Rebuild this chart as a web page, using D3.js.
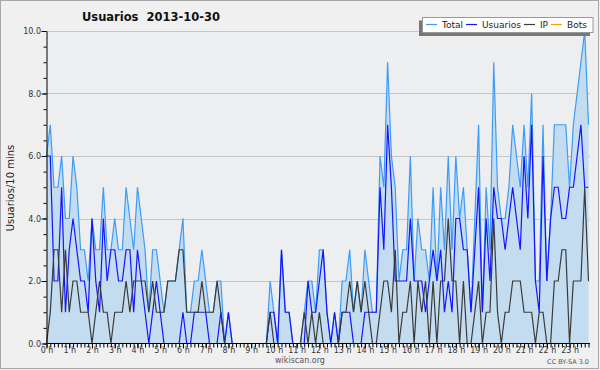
<!DOCTYPE html>
<html><head><meta charset="utf-8">
<script src="https://cdn.jsdelivr.net/npm/d3@7"></script>
<style>
body{margin:0;background:#fff}
svg{display:block}
text{font-family:"DejaVu Sans",sans-serif}
</style>
</head><body>
<svg id="c" width="600" height="370"></svg>
<script>
// 10-minute slots, 144 per day
const hourLabels = ["0 h","1 h","2 h","3 h","4 h","5 h","6 h","7 h","8 h","9 h","10 h","11 h",
  "12 h","13 h","14 h","15 h","16 h","17 h","18 h","19 h","20 h","21 h","22 h","23 h"];
const yTicks = [0,2,4,6,8,10];
const seriesNames = ["Total","Usuarios","IP","Bots"];

const total = [
  6,7,5,5,6,4,4,6,5,3,3,2,4,3,3,5,3,3,4,3,3,5,4,3,
  5,4,3,1,3,3,2,1,2,2,2,3,4,1,1,2,2,3,2,1,1,2,2,0,
  1,0,0,0,0,0,0,0,0,0,0,2,1,0,3,1,1,0,0,0,1,2,2,1,
  3,3,1,0,1,0,2,2,3,1,2,1,3,2,1,1,6,5,9,6,5,2,3,3,
  6,2,4,3,3,2,5,2,5,3,6,3,6,4,5,3,1,4,7,1,5,3,9,5,
  4,4,5,7,6,5,7,5,8,2,2,7,2,4,7,7,7,7,5,7,8,9,10,7];
const usuarios = [
  6,6,2,2,5,1,3,4,3,2,2,1,4,2,1,4,2,3,3,2,2,3,3,1,
  3,2,1,0,1,2,1,0,0,0,0,0,1,0,0,1,1,1,1,0,0,0,1,0,
  1,0,0,0,0,0,0,0,0,0,0,1,1,0,3,1,1,0,0,0,0,2,1,1,
  2,3,1,0,1,0,1,1,1,0,0,0,1,1,1,1,5,3,7,5,2,2,2,2,
  4,2,2,2,1,2,3,2,3,1,2,1,4,4,3,3,1,3,5,1,4,2,5,4,
  4,3,4,5,4,3,6,4,7,2,1,6,2,4,5,5,4,4,5,5,6,7,5,5];
const ip = [
  0,1,3,3,1,3,1,2,2,1,1,1,0,1,2,1,1,0,1,1,1,2,1,2,
  2,2,2,1,2,1,1,1,2,2,2,3,3,1,1,1,1,2,1,1,1,2,1,0,
  0,0,0,0,0,0,0,0,0,0,0,1,0,0,0,0,0,0,0,0,1,0,1,0,
  1,0,0,0,0,0,1,1,2,1,2,1,2,1,0,0,1,2,2,1,3,0,1,1,
  2,0,2,1,2,0,2,0,2,2,4,2,2,0,2,0,0,1,2,0,1,1,4,1,
  0,1,1,2,2,2,1,1,1,0,1,1,0,0,2,2,3,3,0,2,2,2,5,2];
const bots = [
  0,0,0,0,0,0,0,0,0,0,0,0,0,0,0,0,0,0,0,0,0,0,0,0,
  0,0,0,0,0,0,0,0,0,0,0,0,0,0,0,0,0,0,0,0,0,0,0,0,
  0,0,0,0,0,0,0,0,0,0,0,0,0,0,0,0,0,0,0,0,0,0,0,0,
  0,0,0,0,0,0,0,0,0,0,0,0,0,0,0,0,0,0,0,0,0,0,0,0,
  0,0,0,0,0,0,0,0,0,0,0,0,0,0,0,0,0,0,0,0,0,0,0,0,
  0,0,0,0,0,0,0,0,0,0,0,0,0,0,0,0,0,0,0,0,0,0,0,0];

const colors = {Total:"#3d9cf5", Usuarios:"#1414ff", IP:"#3a3a3a", Bots:"#ff9a00"};
const fillColor = "#c4dcf0";

const svg = d3.select("#c");
svg.append("rect").attr("x",0).attr("y",0).attr("width",600).attr("height",370).attr("fill","#f0f0f0");
svg.append("rect").attr("x",0.5).attr("y",0.5).attr("width",598).attr("height",368)
  .attr("fill","none").attr("stroke","#a8a8a8");

const x = d3.scaleLinear().domain([0,143]).range([46.5,588.5]);
const y = d3.scaleLinear().domain([0,10]).range([343.5,31]);
const xRight = 590;

// plot bg
svg.append("rect").attr("x",46.5).attr("y",y(10)).attr("width",xRight-46.5).attr("height",y(0)-y(10))
  .attr("fill","#eceef0");

// gridlines
svg.append("g").selectAll("line").data(yTicks.filter(d=>d>0)).join("line")
  .attr("x1",46.5).attr("x2",xRight)
  .attr("y1",d=>Math.round(y(d))+0.5).attr("y2",d=>Math.round(y(d))+0.5)
  .attr("stroke","#c6c6c6").attr("stroke-width",1);

const idx = d3.range(total.length);
// area
svg.append("path").datum(idx)
  .attr("d", d3.area().x(i=>x(i)).y0(y(0)).y1(i=>y(total[i])))
  .attr("fill",fillColor);

const line = arr => d3.line().x(i=>x(i)).y(i=>y(arr[i]));
const seriesData = {Total:total, Usuarios:usuarios, IP:ip, Bots:bots};
seriesNames.forEach(n=>{
  svg.append("path").datum(idx).attr("d", line(seriesData[n])(idx))
    .attr("fill","none").attr("stroke",colors[n]).attr("stroke-width",1.2)
    .attr("stroke-linejoin","miter");
});

// y axis minor
const gy = svg.append("g").attr("transform","translate(46.5,0)");
gy.call(d3.axisLeft(y).tickValues(d3.range(0,10.01,0.5)).tickSize(3).tickSizeOuter(0).tickFormat(""));
const gy2 = svg.append("g").attr("transform","translate(46.5,0)");
gy2.call(d3.axisLeft(y).tickValues(yTicks).tickSize(5).tickSizeOuter(0).tickFormat(d3.format(".1f")));
gy2.select(".domain").remove();
[gy,gy2].forEach(g=>{
  g.selectAll(".domain").attr("stroke","#000");
  g.selectAll(".tick line").attr("stroke","#000");
});
gy2.selectAll("text").attr("x",-5.5).attr("font-size",8).attr("fill","#333")
  .attr("font-family","DejaVu Sans");

// x axis
const gx = svg.append("g").attr("transform","translate(0,343.5)");
gx.call(d3.axisBottom(x).tickValues(idx).tickSize(4).tickSizeOuter(0).tickFormat(""));
gx.select(".domain").remove();
gx.selectAll(".tick line").attr("stroke","#000");
const gx2 = svg.append("g").attr("transform","translate(0,343.5)");
gx2.call(d3.axisBottom(x).tickValues(d3.range(0,144,6)).tickSize(5).tickSizeOuter(0)
  .tickFormat((d,k)=>hourLabels[k]));
gx2.select(".domain").remove();
gx2.selectAll(".tick line").attr("stroke","#000");
gx2.selectAll("text").attr("y",3.6).attr("font-size",8).attr("fill","#333").attr("font-family","DejaVu Sans");
svg.append("line").attr("x1",46.5).attr("x2",xRight).attr("y1",343.5).attr("y2",343.5).attr("stroke","#000");

// title
svg.append("text").attr("x",151).attr("y",21).attr("text-anchor","middle")
  .attr("font-size",11.5).attr("font-weight","bold").attr("fill","#111")
  .style("white-space","pre").text("Usuarios  2013-10-30");

// y label
svg.append("text").attr("transform","translate(13.5,188) rotate(-90)")
  .attr("text-anchor","middle").attr("font-size",10).attr("font-family","DejaVu Sans Mono")
  .attr("fill","#222").text("Usuarios/10 mins");

// footer
svg.append("text").attr("x",300).attr("y",363).attr("text-anchor","middle")
  .attr("font-size",8).attr("fill","#555").text("wikiscan.org");
svg.append("text").attr("x",589).attr("y",364).attr("text-anchor","end")
  .attr("font-size",6.5).attr("fill","#555").text("CC BY-SA 3.0");

// legend
const lg = svg.append("g");
lg.append("rect").attr("x",419).attr("y",20.5).attr("width",171).attr("height",15.5).attr("fill","#777");
lg.append("rect").attr("x",422.5).attr("y",17.5).attr("width",170.5).attr("height",15)
  .attr("fill","#fff").attr("stroke","#999");
let lx = 426;
seriesNames.forEach(n=>{
  lg.append("line").attr("x1",lx).attr("x2",lx+11).attr("y1",24.5).attr("y2",24.5)
    .attr("stroke",colors[n]).attr("stroke-width",1.2);
  const t = lg.append("text").attr("x",lx+16).attr("y",28).attr("font-size",9).attr("fill","#222").text(n);
  lx = lx + 16 + t.node().getComputedTextLength() + 3;
});
</script>
</body></html>
